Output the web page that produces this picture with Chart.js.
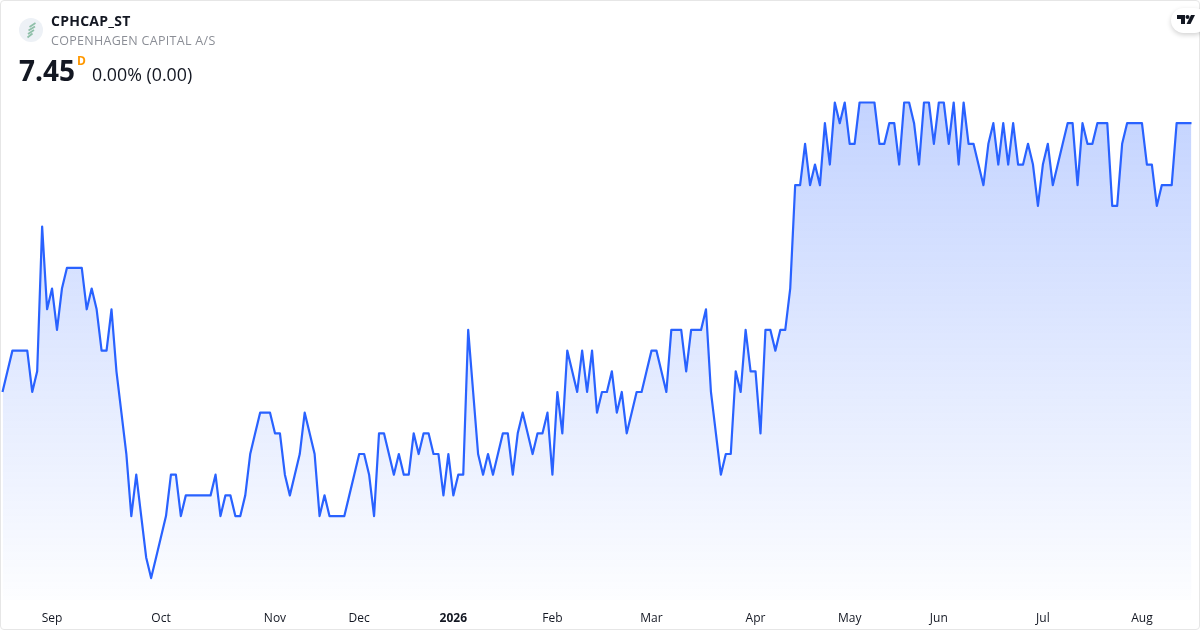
<!DOCTYPE html>
<html>
<head>
<meta charset="utf-8">
<title>CPHCAP_ST</title>
<script src="https://cdn.jsdelivr.net/npm/chart.js@4"></script>
<style>
    html, body { margin: 0; padding: 0; background: #fff; }
    body { width: 1200px; height: 630px; overflow: hidden; position: relative; font-family: 'Open Sans', sans-serif; }
    #frame { position: absolute; left: 0; top: 0; width: 1198px; height: 628px; border: 1px solid #e6e6e6; border-radius: 4px; }
    #priceChart { position: absolute; left: 0; top: 0; }
    .txt { position: absolute; white-space: nowrap; }
    #symbol { left: 51px; top: 12px; font-size: 14px; line-height: 18px; font-weight: 700; color: #131722; letter-spacing: 0.25px; }
    #company { left: 51px; top: 32px; font-size: 12.5px; line-height: 18px; color: #8b8e96; letter-spacing: 0.3px; }
    #last { left: 19px; top: 51px; font-size: 28px; line-height: 38px; font-weight: 700; color: #131722; }
    #interval { left: 77px; top: 54px; font-size: 12px; line-height: 14px; font-weight: 700; color: #ff9800; }
    #change { left: 92px; top: 62px; font-size: 17.8px; line-height: 24px; color: #131722; }
    #logo { position: absolute; left: 19px; top: 18px; }
    #tvBadge { position: absolute; left: 1171px; top: 8px; width: 36px; height: 25px; background: #fff; border-radius: 13px; box-shadow: 0 2px 5px rgba(0,0,0,.18); }
    #tvBadge svg { position: absolute; left: 6px; top: 7px; }
</style>
</head>
<body>
<canvas id="priceChart" width="1200" height="630"></canvas>
<div id="frame"></div>
<svg id="logo" width="24" height="24" viewBox="0 0 24 24">
    <circle cx="12" cy="12" r="12" fill="#edf1f6"/>
    <path d="M10.5 9 L16.5 5 M9.5 12.5 L16 8.5 M9 16 L15 12 M8.5 19.5 L13.5 15.5" stroke="#8fbfa9" stroke-width="1.7" fill="none"/>
</svg>
<div class="txt" id="symbol">CPHCAP_ST</div>
<div class="txt" id="company">COPENHAGEN CAPITAL A/S</div>
<div class="txt" id="last">7.45</div>
<div class="txt" id="interval">D</div>
<div class="txt" id="change">0.00% (0.00)</div>
<div id="tvBadge">
    <svg width="18" height="10" viewBox="0 0 18 10">
        <path d="M0 0 H8 V9 H4 V4 H0 Z" fill="#131722"/>
        <circle cx="10.5" cy="2" r="2" fill="#131722"/>
        <path d="M14 0 H18 L13.5 9 H9.5 Z" fill="#131722"/>
    </svg>
</div>

<script>
// Close prices
const closes = [
    6.80, 6.85, 6.90, 6.90, 6.90, 6.90, 6.80, 6.85, 7.20, 7.00, 7.05, 6.95, 7.05, 7.10, 7.10, 7.10,
    7.10, 7.00, 7.05, 7.00, 6.90, 6.90, 7.00, 6.85, 6.75, 6.65, 6.50, 6.60, 6.50, 6.40, 6.35, 6.40,
    6.45, 6.50, 6.60, 6.60, 6.50, 6.55, 6.55, 6.55, 6.55, 6.55, 6.55, 6.60, 6.50, 6.55, 6.55, 6.50,
    6.50, 6.55, 6.65, 6.70, 6.75, 6.75, 6.75, 6.70, 6.70, 6.60, 6.55, 6.60, 6.65, 6.75, 6.70, 6.65,
    6.50, 6.55, 6.50, 6.50, 6.50, 6.50, 6.55, 6.60, 6.65, 6.65, 6.60, 6.50, 6.70, 6.70, 6.65, 6.60,
    6.65, 6.60, 6.60, 6.70, 6.65, 6.70, 6.70, 6.65, 6.65, 6.55, 6.65, 6.55, 6.60, 6.60, 6.95, 6.80,
    6.65, 6.60, 6.65, 6.60, 6.65, 6.70, 6.70, 6.60, 6.70, 6.75, 6.70, 6.65, 6.70, 6.70, 6.75, 6.60,
    6.80, 6.70, 6.90, 6.85, 6.80, 6.90, 6.80, 6.90, 6.75, 6.80, 6.80, 6.85, 6.75, 6.80, 6.70, 6.75,
    6.80, 6.80, 6.85, 6.90, 6.90, 6.85, 6.80, 6.95, 6.95, 6.95, 6.85, 6.95, 6.95, 6.95, 7.00, 6.80,
    6.70, 6.60, 6.65, 6.65, 6.85, 6.80, 6.95, 6.85, 6.85, 6.70, 6.95, 6.95, 6.90, 6.95, 6.95, 7.05,
    7.30, 7.30, 7.40, 7.30, 7.35, 7.30, 7.45, 7.35, 7.50, 7.45, 7.50, 7.40, 7.40, 7.50, 7.50, 7.50,
    7.50, 7.40, 7.40, 7.45, 7.45, 7.35, 7.50, 7.50, 7.45, 7.35, 7.50, 7.50, 7.40, 7.50, 7.50, 7.40,
    7.50, 7.35, 7.50, 7.40, 7.40, 7.35, 7.30, 7.40, 7.45, 7.35, 7.45, 7.35, 7.45, 7.35, 7.35, 7.40,
    7.35, 7.25, 7.35, 7.40, 7.30, 7.35, 7.40, 7.45, 7.45, 7.30, 7.45, 7.40, 7.40, 7.45, 7.45, 7.45,
    7.25, 7.25, 7.40, 7.45, 7.45, 7.45, 7.45, 7.35, 7.35, 7.25, 7.30, 7.30, 7.30, 7.45, 7.45, 7.45,
    7.45
];

// Month ticks: which session each label sits on
const tickPositions = [10, 32, 55, 72, 91, 111, 131, 152, 171, 189, 210, 230];
const tickLabels = ['Sep', 'Oct', 'Nov', 'Dec', '2026', 'Feb', 'Mar', 'Apr', 'May', 'Jun', 'Jul', 'Aug'];

const sessions = closes.map((_, i) => i);

function areaFill(context) {
    const area = context.chart.chartArea;
    if (!area) return 'rgba(41, 98, 255, 0.15)';
    const g = context.chart.ctx.createLinearGradient(0, area.top, 0, area.bottom);
    g.addColorStop(0, 'rgba(41, 98, 255, 0.28)');
    g.addColorStop(1, 'rgba(41, 98, 255, 0.01)');
    return g;
}

new Chart(document.getElementById('priceChart'), {
    type: 'line',
    data: {
        labels: sessions,
        datasets: [{
            data: closes,
            borderColor: '#2962ff',
            borderWidth: 2.2,
            backgroundColor: areaFill,
            fill: 'start',
            tension: 0,
            pointRadius: 0,
            borderJoinStyle: 'round',
            clip: false
        }]
    },
    options: {
        responsive: false,
        animation: false,
        layout: { padding: { left: 2.5, right: 8.5, top: 102.5, bottom: 0 } },
        plugins: { legend: { display: false }, tooltip: { enabled: false } },
        scales: {
            y: { display: false, min: 6.297, max: 7.5 },
            x: {
                grid: { display: false },
                border: { display: false },
                afterBuildTicks: axis => { axis.ticks = tickPositions.map(v => ({ value: v })); },
                afterFit: axis => { axis.height = 30; },
                ticks: {
                    autoSkip: false,
                    maxRotation: 0,
                    padding: 3.6,
                    color: '#131722',
                    font: ctx => ({
                        family: 'Open Sans',
                        size: 12,
                        weight: tickLabels[ctx.index] === '2026' ? '700' : '400'
                    }),
                    callback: (value, index) => tickLabels[index]
                }
            }
        }
    }
});
</script>
</body>
</html>
